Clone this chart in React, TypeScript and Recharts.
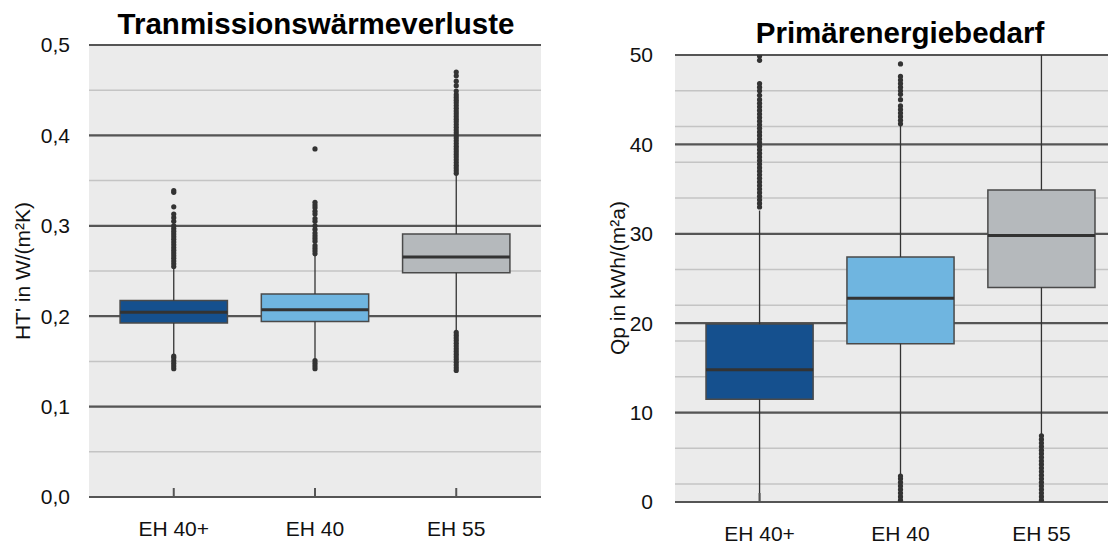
import React from "react";
import {
  CartesianGrid,
  ComposedChart,
  ReferenceArea,
  ReferenceLine,
  Scatter,
  XAxis,
  YAxis,
} from "recharts";

const categories = ["EH 40+", "EH 40", "EH 55"];
const boxColors = ["#15508e", "#6fb5e0", "#b5b9bc"];

// Tranmissionswärmeverluste (HT' in W/(m²K))
const htMajorTicks = [0, 0.1, 0.2, 0.3, 0.4, 0.5];
const htMinorTicks = [
  0, 0.025, 0.05, 0.075, 0.1, 0.125, 0.15, 0.175, 0.2, 0.225, 0.25, 0.275, 0.3,
  0.325, 0.35, 0.375, 0.4, 0.425, 0.45, 0.475, 0.5,
];
const htLow = [0.158, 0.152, 0.183];
const htQ1 = [0.1925, 0.194, 0.248];
const htMedian = [0.2045, 0.207, 0.2655];
const htQ3 = [0.2175, 0.2245, 0.291];
const htHigh = [0.254, 0.268, 0.356];
const htOutliers = [
  [
    0.142, 0.145, 0.148, 0.151, 0.154, 0.156, 0.255, 0.258, 0.261, 0.264, 0.267,
    0.27, 0.273, 0.276, 0.279, 0.282, 0.285, 0.288, 0.291, 0.294, 0.297, 0.3,
    0.305, 0.309, 0.313, 0.321, 0.337, 0.339,
  ],
  [
    0.142, 0.145, 0.148, 0.151, 0.269, 0.272, 0.275, 0.278, 0.283, 0.286, 0.289,
    0.292, 0.296, 0.3, 0.305, 0.308, 0.313, 0.316, 0.32, 0.323, 0.326, 0.385,
  ],
  [
    0.14, 0.143, 0.146, 0.149, 0.152, 0.155, 0.158, 0.161, 0.164, 0.167, 0.17,
    0.173, 0.176, 0.179, 0.182, 0.358, 0.361, 0.364, 0.367, 0.37, 0.373, 0.376,
    0.379, 0.382, 0.385, 0.388, 0.391, 0.394, 0.397, 0.4, 0.403, 0.406, 0.409,
    0.412, 0.415, 0.418, 0.421, 0.424, 0.427, 0.43, 0.433, 0.436, 0.439, 0.442,
    0.445, 0.449, 0.455, 0.46, 0.466, 0.47,
  ],
];

// Primärenergiebedarf (Qp in kWh/(m²a))
const qpMajorTicks = [0, 10, 20, 30, 40, 50];
const qpMinorTicks = [
  0, 2, 4, 6, 8, 10, 12, 14, 16, 18, 20, 22, 24, 26, 28, 30, 32, 34, 36, 38, 40,
  42, 44, 46, 48, 50,
];
const qpLow = [0, 3.0, 7.6];
const qpQ1 = [11.5, 17.7, 24.0];
const qpMedian = [14.8, 22.8, 29.8];
const qpQ3 = [19.9, 27.4, 34.9];
const qpHigh = [32.6, 42.1, 55];
const qpOutliers = [
  [
    33.0, 33.4, 33.8, 34.2, 34.6, 35.0, 35.4, 35.8, 36.2, 36.6, 37.0, 37.4, 37.8,
    38.2, 38.6, 39.0, 39.4, 39.8, 40.2, 40.6, 41.0, 41.4, 41.8, 42.2, 42.6, 43.0,
    43.4, 43.8, 44.2, 44.6, 45.0, 45.5, 46.0, 46.4, 46.8, 49.4, 49.9,
  ],
  [
    0.2, 0.6, 1.0, 1.4, 1.8, 2.2, 2.6, 2.9, 42.3, 42.7, 43.1, 43.5, 43.9, 44.3,
    45.0, 45.6, 46.0, 46.4, 46.8, 47.2, 47.6, 49.0,
  ],
  [
    0.2, 0.6, 1.0, 1.4, 1.8, 2.2, 2.6, 3.0, 3.4, 3.8, 4.2, 4.6, 5.0, 5.4, 5.8,
    6.2, 6.6, 7.0, 7.4,
  ],
];

const BOX_HALF = 0.38;
const DARK = "#333333";
const FONT = "'Liberation Sans', Arial, sans-serif";

type PanelProps = {
  width: number;
  height: number;
  margin: { top: number; right: number; bottom: number; left: number };
  yAxisWidth: number;
  xAxisHeight: number;
  yTickMargin: number;
  domain: [number, number];
  majorTicks: number[];
  minorTicks: number[];
  formatTick: (v: number) => string;
  low: number[];
  q1: number[];
  median: number[];
  q3: number[];
  high: number[];
  outliers: number[][];
};

function BoxPanel(p: PanelProps) {
  const points = p.outliers.flatMap((vals, i) => vals.map((v) => ({ x: i, y: v })));
  return (
    <ComposedChart width={p.width} height={p.height} margin={p.margin}>
      <CartesianGrid
        yAxisId="minor"
        vertical={false}
        fill="#ebebeb"
        fillOpacity={1}
        stroke="#c4c4c4"
        strokeWidth={1.5}
      />
      <CartesianGrid vertical={false} stroke="#555555" strokeWidth={2.2} />
      <XAxis
        type="number"
        dataKey="x"
        domain={[-0.6, 2.6]}
        allowDataOverflow
        ticks={[0, 1, 2]}
        interval={0}
        tickFormatter={(v: number) => categories[v] ?? ""}
        axisLine={false}
        tickSize={-9}
        tickMargin={33}
        tickLine={{ stroke: "#555555", strokeWidth: 2 }}
        tick={{ fill: "#111", fontSize: 21 }}
        height={p.xAxisHeight}
      />
      <YAxis
        yAxisId="minor"
        hide
        type="number"
        dataKey="y"
        domain={p.domain}
        allowDataOverflow
        ticks={p.minorTicks}
      />
      <YAxis
        type="number"
        dataKey="y"
        domain={p.domain}
        allowDataOverflow
        ticks={p.majorTicks}
        interval={0}
        tickFormatter={p.formatTick}
        axisLine={false}
        tickLine={false}
        tickSize={0}
        tickMargin={p.yTickMargin}
        tick={{ fill: "#111", fontSize: 21 }}
        width={p.yAxisWidth}
      />
      {categories.map((c, i) => (
        <ReferenceLine
          key={`lo-${c}`}
          segment={[
            { x: i, y: p.low[i] },
            { x: i, y: p.q1[i] },
          ]}
          stroke={DARK}
          strokeWidth={1.3}
          ifOverflow="hidden"
        />
      ))}
      {categories.map((c, i) => (
        <ReferenceLine
          key={`hi-${c}`}
          segment={[
            { x: i, y: p.q3[i] },
            { x: i, y: p.high[i] },
          ]}
          stroke={DARK}
          strokeWidth={1.3}
          ifOverflow="hidden"
        />
      ))}
      {categories.map((c, i) => (
        <ReferenceArea
          key={`box-${c}`}
          x1={i - BOX_HALF}
          x2={i + BOX_HALF}
          y1={p.q1[i]}
          y2={p.q3[i]}
          fill={boxColors[i]}
          fillOpacity={1}
          stroke="#4a4a4a"
          strokeWidth={1.5}
        />
      ))}
      {categories.map((c, i) => (
        <ReferenceLine
          key={`med-${c}`}
          segment={[
            { x: i - BOX_HALF, y: p.median[i] },
            { x: i + BOX_HALF, y: p.median[i] },
          ]}
          stroke={DARK}
          strokeWidth={3}
        />
      ))}
      <Scatter
        data={points}
        isAnimationActive={false}
        shape={(s: any) => <circle cx={s.cx} cy={s.cy} r={2.6} fill={DARK} />}
      />
    </ComposedChart>
  );
}

const titleStyle: React.CSSProperties = {
  position: "absolute",
  fontWeight: 700,
  fontSize: 29.5,
  lineHeight: "29px",
  textAlign: "center",
  color: "#000",
  whiteSpace: "nowrap",
};

const axisTitleStyle: React.CSSProperties = {
  position: "absolute",
  fontSize: 21,
  lineHeight: "21px",
  width: 300,
  textAlign: "center",
  color: "#111",
  whiteSpace: "nowrap",
  transform: "translate(-50%, -50%) rotate(-90deg)",
};

export default function App() {
  return (
    <div
      style={{
        position: "relative",
        margin: "-8px 0 0 -8px",
        width: 1116,
        height: 545,
        overflow: "hidden",
        background: "#fff",
        fontFamily: FONT,
      }}
    >
      <div style={{ position: "absolute", left: 0, top: 0 }}>
        <BoxPanel
          width={560}
          height={545}
          margin={{ top: 45, right: 19, bottom: 0, left: 0 }}
          yAxisWidth={89}
          xAxisHeight={48}
          yTickMargin={19}
          domain={[0, 0.5]}
          majorTicks={htMajorTicks}
          minorTicks={htMinorTicks}
          formatTick={(v) => v.toFixed(1).replace(".", ",")}
          low={htLow}
          q1={htQ1}
          median={htMedian}
          q3={htQ3}
          high={htHigh}
          outliers={htOutliers}
        />
      </div>
      <div style={{ position: "absolute", left: 560, top: 0 }}>
        <BoxPanel
          width={580}
          height={545}
          margin={{ top: 55, right: 14, bottom: 0, left: 0 }}
          yAxisWidth={115}
          xAxisHeight={43}
          yTickMargin={22}
          domain={[0, 50]}
          majorTicks={qpMajorTicks}
          minorTicks={qpMinorTicks}
          formatTick={(v) => String(v)}
          low={qpLow}
          q1={qpQ1}
          median={qpMedian}
          q3={qpQ3}
          high={qpHigh}
          outliers={qpOutliers}
        />
      </div>
      <div style={{ ...titleStyle, left: 16, width: 600, top: 9 }}>
        Tranmissionswärmeverluste
      </div>
      <div style={{ ...titleStyle, left: 600, width: 600, top: 18 }}>
        Primärenergiebedarf
      </div>
      <div style={{ ...axisTitleStyle, left: 22, top: 271 }}>HT' in W/(m²K)</div>
      <div style={{ ...axisTitleStyle, left: 617, top: 278 }}>Qp in kWh/(m²a)</div>
    </div>
  );
}
